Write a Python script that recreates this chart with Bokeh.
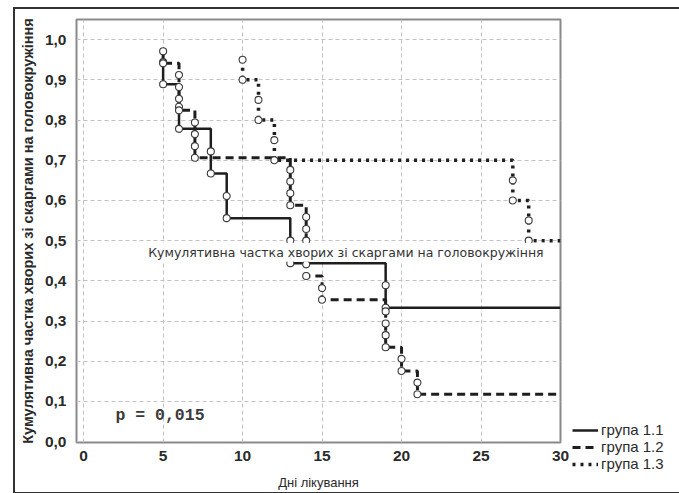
from bokeh.plotting import figure
from bokeh.models import Label, Legend, LegendItem, FixedTicker, Range1d
from bokeh.embed import file_html
from bokeh.resources import INLINE

# ---- data ----
group_names = ["група 1.1", "група 1.2", "група 1.3"]

g11_days = [5, 5, 6, 6, 8, 8, 9, 9, 13, 13, 19, 19]
g11_vals = [0.944, 0.889, 0.833, 0.778, 0.722, 0.667, 0.611, 0.556, 0.500, 0.444, 0.389, 0.333]

g12_days = [5, 5, 6, 6, 6, 6, 7, 7, 7, 7, 13, 13, 13, 13, 14, 14, 14, 14, 14, 14,
            15, 15, 19, 19, 19, 19, 20, 20, 21, 21]
g12_vals = [0.971, 0.941, 0.912, 0.882, 0.853, 0.824, 0.794, 0.765, 0.735, 0.706,
            0.676, 0.647, 0.618, 0.588, 0.559, 0.529, 0.500, 0.471, 0.441, 0.412,
            0.382, 0.353, 0.324, 0.294, 0.265, 0.235, 0.206, 0.176, 0.147, 0.118]

g13_days = [10, 10, 11, 11, 12, 12, 27, 27, 28, 28]
g13_vals = [0.95, 0.90, 0.85, 0.80, 0.75, 0.70, 0.65, 0.60, 0.55, 0.50]

end_day = 30
x_ticks = [0, 5, 10, 15, 20, 25, 30]
y_ticks = [0.0, 0.1, 0.2, 0.3, 0.4, 0.5, 0.6, 0.7, 0.8, 0.9, 1.0]
y_tick_labels = ["0,0", "0,1", "0,2", "0,3", "0,4", "0,5", "0,6", "0,7", "0,8", "0,9", "1,0"]

y_title = "Кумулятивна частка хворих зі скаргами на головокружіння"
x_title = "Дні лікування"
inner_title = "Кумулятивна частка хворих зі скаргами на головокружіння"
p_text = "p = 0,015"


def step_path(days, vals, end):
    xs, ys = [], []
    prev = None
    for d, v in zip(days, vals):
        if prev is not None and d != prev:
            xs.append(d)
            ys.append(ys[-1])
        xs.append(d)
        ys.append(v)
        prev = d
    xs.append(end)
    ys.append(ys[-1])
    return xs, ys


SANS = "Liberation Sans"

p = figure(frame_width=484, frame_height=423,
           min_border_left=61, min_border_right=114, min_border_top=10, min_border_bottom=44,
           x_range=Range1d(-0.45, 30), y_range=Range1d(-0.002, 1.05),
           output_backend="svg", toolbar_location=None,
           background_fill_color="white", border_fill_color="white",
           styles={"border": "2px solid #333"})
p.margin = (7, 0, 0, 13)

p.outline_line_color = "#8a8a8a"
p.outline_line_width = 2

p.xaxis.ticker = FixedTicker(ticks=x_ticks)
p.yaxis.ticker = FixedTicker(ticks=y_ticks)
p.yaxis.major_label_overrides = {t: l for t, l in zip(y_ticks, y_tick_labels)}

for ax in (p.xaxis[0], p.yaxis[0]):
    ax.axis_line_color = None
    ax.major_tick_line_color = None
    ax.minor_tick_line_color = None
    ax.major_label_text_font = SANS
    ax.major_label_text_font_style = "bold"
    ax.major_label_text_font_size = "15.5px"
    ax.major_label_text_color = "#2a2a2a"
    ax.major_label_standoff = 4
p.xaxis.major_label_standoff = 2

p.yaxis.axis_label = y_title
p.yaxis.axis_label_text_font = SANS
p.yaxis.axis_label_text_font_style = "bold"
p.yaxis.axis_label_text_font_size = "14.5px"
p.yaxis.axis_label_text_color = "#2a2a2a"
p.yaxis.axis_label_standoff = 6

p.xaxis.axis_label = x_title
p.xaxis.axis_label_text_font = SANS
p.xaxis.axis_label_text_font_style = "normal"
p.xaxis.axis_label_text_font_size = "13px"
p.xaxis.axis_label_text_color = "#2a2a2a"
p.xaxis.axis_label_standoff = 11

for g in (p.xgrid[0], p.ygrid[0]):
    g.grid_line_color = "#c2c2c2"
    g.grid_line_dash = "4 3"
    g.grid_line_width = 1

line_col = "#1e1e1e"
styles = [
    dict(line_width=2.5, line_dash="solid"),
    dict(line_width=3, line_dash="8 5"),
    dict(line_width=3.5, line_dash="3 5"),
]
datasets = [(g11_days, g11_vals), (g12_days, g12_vals), (g13_days, g13_vals)]

renderers = []
for (days, vals), st in zip(datasets, styles):
    xs, ys = step_path(days, vals, end_day)
    r = p.line(xs, ys, line_color=line_col, **st)
    renderers.append(r)

for days, vals in datasets:
    p.scatter(days, vals, size=7, marker="circle", fill_color="white",
              line_color="#3a3a3a", line_width=1.1)

lbl = Label(x=16.5, y=0.471, text=inner_title, text_align="center", text_baseline="middle",
            text_font="DejaVu Sans", text_font_size="12.5px", text_color="#333333",
            background_fill_color="white", background_fill_alpha=1.0,
            padding=2)
p.add_layout(lbl)

plbl = Label(x=2.0, y=0.065, text=p_text, text_align="left", text_baseline="middle",
             text_font="Liberation Mono", text_font_style="bold",
             text_font_size="16.5px", text_color="#3a3a3a")
p.add_layout(plbl)

legend = Legend(items=[LegendItem(label=n, renderers=[r]) for n, r in zip(group_names, renderers)],
                location=(12, -30), orientation="vertical",
                label_text_font=SANS, label_text_font_size="15px", label_text_color="#2a2a2a",
                glyph_width=26, glyph_height=16, spacing=0, padding=0, margin=0,
                label_standoff=3, border_line_color=None, background_fill_alpha=0)
p.add_layout(legend, "right")

open("out.html", "w").write(file_html(p, INLINE))
